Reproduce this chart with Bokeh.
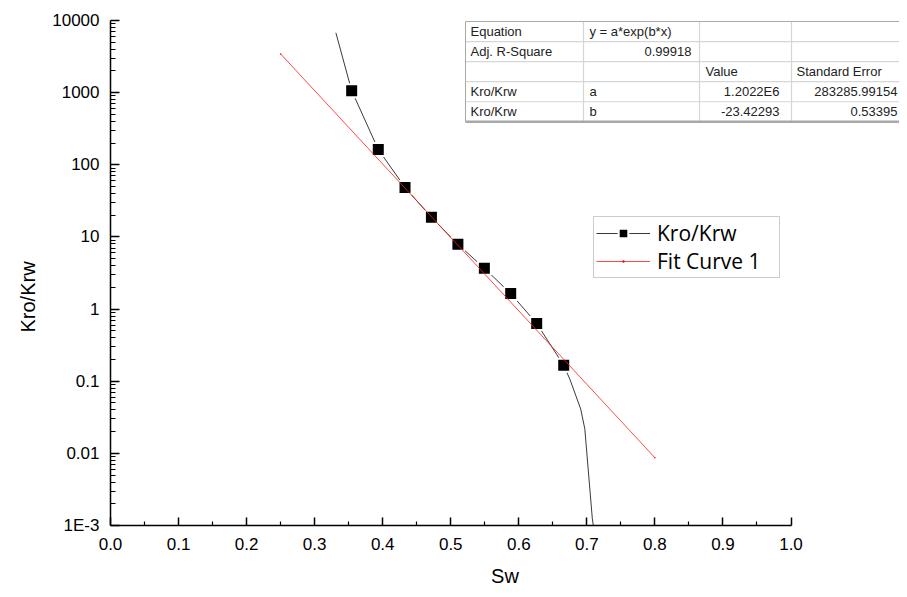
from bokeh.plotting import figure
from bokeh.models import Range1d, FixedTicker, NumeralTickFormatter, Legend, LegendItem, Title
from bokeh.core.properties import value
from bokeh.embed import file_html
from bokeh.resources import INLINE

# ---- data ----
sw = [0.3544, 0.3935, 0.4328, 0.4716, 0.5105, 0.5494, 0.5881, 0.6263, 0.6660]
kro_krw = [1066, 163, 48.5, 18.7, 7.9, 3.68, 1.64, 0.632, 0.166]

# connecting (spline) curve of the measured series, incl. its extension
curve_sw = [0.3312, 0.3544, 0.3935, 0.4328, 0.4716, 0.5105, 0.5494, 0.5881,
            0.6263, 0.6660, 0.675, 0.691, 0.697, 0.708, 0.7095]
curve_ratio = [6760, 1066, 163, 48.5, 18.7, 7.9, 3.68, 1.64,
               0.632, 0.166, 0.107, 0.041, 0.0219, 0.00126, 0.001]

# exponential fit y = a*exp(b*x), drawn between its end points
fit_sw = [0.25, 0.80]
fit_ratio = [3440, 0.0087]

x_ticks = [0.0, 0.1, 0.2, 0.3, 0.4, 0.5, 0.6, 0.7, 0.8, 0.9, 1.0]
y_ticks = [1e-3, 1e-2, 1e-1, 1, 10, 100, 1000, 10000]
y_labels = ["1E-3", "0.01", "0.1", "1", "10", "100", "1000", "10000"]

table_col1 = ["Equation", "Adj. R-Square", "", "Kro/Krw", "Kro/Krw"]
table_col2 = ["y = a*exp(b*x)", "0.99918", "", "a", "b"]
table_col3 = ["", "", "Value", "1.2022E6", "-23.42293"]
table_col4 = ["", "", "Standard Error", "283285.99154", "0.53395"]

# ---- figure ----
W, H = 899, 589
ML, MT, MB = 110, 20, 63
PPU = 680.5                      # pixels per x unit
x_end = (W - ML) / PPU

p = figure(width=W, height=H, y_axis_type="log",
           x_range=Range1d(0, x_end), y_range=Range1d(1e-3, 1e4),
           output_backend="svg", toolbar_location=None,
           min_border_left=ML, min_border_right=0,
           min_border_top=MT, min_border_bottom=MB)
p.grid.visible = False
p.outline_line_color = None
p.background_fill_color = "white"
p.border_fill_color = "white"

# positions below are canvas pixels (frame origin at ML, MT)
DEC_PX = (H - MT - MB) / 7.0


def X(px):
    return (px - ML) / PPU


def Y(py):
    return 10 ** (4 - (py - MT) / DEC_PX)


# axes
AX_FONT = "Liberation Sans"
xa = p.xaxis[0]
xa.ticker = FixedTicker(ticks=x_ticks,
                        minor_ticks=[round(t + 0.05, 2) for t in x_ticks[:-1]])
xa.formatter = NumeralTickFormatter(format="0.0")
xa.bounds = (0, 1)
ya = p.yaxis[0]
minors = []
for t in y_ticks[:-1]:
    for k in range(2, 10):
        minors.append(t * k)
ya.ticker = FixedTicker(ticks=y_ticks, minor_ticks=minors)
ya.major_label_overrides = {t: l for t, l in zip(y_ticks, y_labels)}

for ax in (xa, ya):
    ax.axis_line_width = 1.5
    ax.axis_line_color = "black"
    ax.major_tick_line_width = 1.5
    ax.minor_tick_line_width = 1.2
    ax.major_tick_out = 0
    ax.minor_tick_out = 0
    ax.major_label_text_font = AX_FONT
    ax.major_label_text_font_size = "17px"
    ax.major_label_text_color = "black"
    ax.axis_label_text_font = AX_FONT
    ax.axis_label_text_font_size = "20px"
    ax.axis_label_text_font_style = "normal"
    ax.axis_label_text_color = "black"

xa.major_tick_in = 8
xa.minor_tick_in = 4
ya.major_tick_in = 9
ya.minor_tick_in = 5
xa.major_label_standoff = 12
ya.major_label_standoff = 11
xa.axis_label = "Sw"
xa.axis_label_standoff = 12

# y-axis title, set a little below the frame centre as in the reference
ytitle = Title(text="Kro/Krw", align="left", offset=193, standoff=19,
               vertical_align="middle",
               text_font=AX_FONT, text_font_size="20px",
               text_font_style="normal", text_color="black")
p.add_layout(ytitle, "left")

# series
line_r = p.line(curve_sw, curve_ratio, line_color="#3a3a3a", line_width=1)
sq_r = p.scatter(sw, kro_krw, marker="square", size=13, fill_color="black",
                 line_color="white", line_width=2)
fit_r = p.line(fit_sw, fit_ratio, line_color="#ff1a1a", line_width=0.8)
fit_dot = p.scatter(fit_sw, fit_ratio, marker="dot", size=6,
                    line_color="red", fill_color="red")

# ---- parameter table (canvas pixel layout) ----
col_px = [465, 583, 699, 791, 940]
row_top = 21.0
row_h = 20.1
rows_px = [row_top + i * row_h for i in range(6)]

p.quad(left=[X(col_px[0])], right=[X(col_px[-1])],
       top=[Y(rows_px[0])], bottom=[Y(rows_px[-1])],
       fill_color="white", line_color=None)
# inner grid
p.segment(x0=[X(col_px[0])] * 4, x1=[X(col_px[-1])] * 4,
          y0=[Y(r) for r in rows_px[1:5]], y1=[Y(r) for r in rows_px[1:5]],
          line_color="#d6d6d6", line_width=1.2)
p.segment(x0=[X(c) for c in col_px[1:4]], x1=[X(c) for c in col_px[1:4]],
          y0=[Y(rows_px[0])] * 3, y1=[Y(rows_px[-1])] * 3,
          line_color="#d6d6d6", line_width=1.2)
# outer border
p.segment(x0=[X(col_px[0]), X(col_px[0]), X(col_px[0])],
          x1=[X(col_px[-1]), X(col_px[0]), X(col_px[-1])],
          y0=[Y(rows_px[0]), Y(rows_px[0]), Y(rows_px[-1])],
          y1=[Y(rows_px[0]), Y(rows_px[-1]), Y(rows_px[-1])],
          line_color="#a8a8a8", line_width=[1, 1, 2.5])

centers = [Y(r + row_h / 2) for r in rows_px[:5]]
TF = value("Liberation Sans")
TS = "13px"
left_x, left_y, left_t = [], [], []
right_x, right_y, right_t = [], [], []
for i in range(5):
    left_x.append(X(col_px[0] + 5)); left_y.append(centers[i]); left_t.append(table_col1[i])
for i, t in enumerate(table_col2):
    if i == 1:
        right_x.append(X(col_px[2] - 8)); right_y.append(centers[i]); right_t.append(t)
    else:
        left_x.append(X(col_px[1] + 6)); left_y.append(centers[i]); left_t.append(t)
for i, t in enumerate(table_col3):
    if i == 2:
        left_x.append(X(col_px[2] + 6)); left_y.append(centers[i]); left_t.append(t)
    elif i > 2:
        right_x.append(X(col_px[3] - 12)); right_y.append(centers[i]); right_t.append(t)
for i, t in enumerate(table_col4):
    if i == 2:
        left_x.append(X(col_px[3] + 5)); left_y.append(centers[i]); left_t.append(t)
    elif i > 2:
        right_x.append(X(W - 2)); right_y.append(centers[i]); right_t.append(t)

p.text(left_x, left_y, text=left_t, text_font=TF, text_font_size=TS,
       text_baseline="middle", text_align="left", text_color="#222222")
p.text(right_x, right_y, text=right_t, text_font=TF, text_font_size=TS,
       text_baseline="middle", text_align="right", text_color="#222222")

# ---- legend ----
legend = Legend(items=[LegendItem(label="Kro/Krw", renderers=[line_r, sq_r]),
                       LegendItem(label="Fit Curve 1", renderers=[fit_r, fit_dot])],
                location=(483, 247))
legend.label_text_font = "Open Sans"
legend.label_text_font_size = "21px"
legend.label_text_color = "black"
legend.glyph_width = 54
legend.glyph_height = 24
legend.label_height = 24
legend.label_width = 120
legend.label_standoff = 7
legend.spacing = 0
legend.padding = 2
legend.margin = 0
legend.border_line_color = "#9a9a9a"
legend.border_line_width = 1
legend.background_fill_alpha = 1
p.add_layout(legend, "center")

open("out.html", "w").write(file_html(p, INLINE))
